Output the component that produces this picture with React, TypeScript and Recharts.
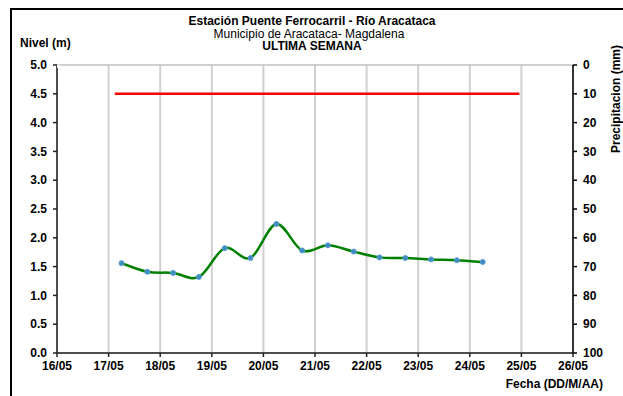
import React from 'react';
import { ComposedChart, Line, XAxis, YAxis, CartesianGrid } from 'recharts';

// Days since 16/05 00:00
const fechas = [1.25, 1.75, 2.25, 2.75, 3.25, 3.75, 4.25, 4.75, 5.25, 5.75, 6.25, 6.75, 7.25, 7.75, 8.25];
const nivel = [1.56, 1.41, 1.39, 1.32, 1.82, 1.65, 2.24, 1.78, 1.87, 1.76, 1.66, 1.65, 1.625, 1.61, 1.58];
const umbralFechas = [1.12, 8.96];
const umbralValor = [4.5, 4.5];
const precFechas = [0];
const precValor = [0];
const xTicks = [0, 1, 2, 3, 4, 5, 6, 7, 8, 9, 10];
const xLabels = ['16/05', '17/05', '18/05', '19/05', '20/05', '21/05', '22/05', '23/05', '24/05', '25/05', '26/05'];
const nivelTicks = [0, 0.5, 1, 1.5, 2, 2.5, 3, 3.5, 4, 4.5, 5];
const precTicks = [0, 10, 20, 30, 40, 50, 60, 70, 80, 90, 100];

const nivelData = fechas.map((t, i) => ({ t, nivel: nivel[i] }));
const umbralData = umbralFechas.map((t, i) => ({ t, umbral: umbralValor[i] }));
const precData = precFechas.map((t, i) => ({ t, prec: precValor[i] }));

// Catmull-Rom style smoothing (like spreadsheet "smoothed line")
function smoothCurve(context: any) {
  let pts: [number, number][] = [];
  return {
    areaStart() {},
    areaEnd() {},
    lineStart() { pts = []; },
    point(x: number, y: number) { pts.push([+x, +y]); },
    lineEnd() {
      const n = pts.length;
      if (!n) return;
      context.moveTo(pts[0][0], pts[0][1]);
      if (n === 1) return;
      for (let i = 0; i < n - 1; i++) {
        const p0 = pts[i - 1] || pts[i];
        const p1 = pts[i];
        const p2 = pts[i + 1];
        const p3 = pts[i + 2] || pts[i + 1];
        const c1x = p1[0] + (p2[0] - p0[0]) / 6;
        const c1y = p1[1] + (p2[1] - p0[1]) / 6;
        const c2x = p2[0] - (p3[0] - p1[0]) / 6;
        const c2y = p2[1] - (p3[1] - p1[1]) / 6;
        context.bezierCurveTo(c1x, c1y, c2x, c2y, p2[0], p2[1]);
      }
    },
  };
}

const tickStyle = { fontSize: 12, fontWeight: 'bold', fill: '#000' } as any;
const font = '"Liberation Sans", Arial, sans-serif';

export default function App() {
  return (
    <div
      style={{
        position: 'fixed',
        left: 0,
        top: 0,
        width: 623,
        height: 396,
        overflow: 'hidden',
        background: '#fff',
        fontFamily: font,
      }}
    >
      <ComposedChart width={623} height={396} margin={{ top: 65, right: 0, left: 0, bottom: 13 }}>
        <CartesianGrid horizontal={false} vertical={true} stroke="#d0d0d0" strokeWidth={2} />
        <CartesianGrid horizontal={true} vertical={false} stroke="#c0c0c0" strokeWidth={1.5} />
        <XAxis
          type="number"
          dataKey="t"
          domain={[0, 10]}
          ticks={xTicks}
          tickFormatter={(v: number) => xLabels[v]}
          allowDataOverflow
          height={30}
          tickSize={4}
          tickMargin={4}
          tick={tickStyle}
          stroke="#222"
          strokeWidth={1.5}
          interval={0}
        />
        <YAxis
          yAxisId="nivel"
          type="number"
          domain={[0, 5]}
          ticks={nivelTicks}
          tickFormatter={(v: number) => v.toFixed(1)}
          width={57}
          tickSize={4}
          tickMargin={6}
          tick={tickStyle}
          stroke="#222"
          strokeWidth={1.5}
          interval={0}
        />
        <YAxis
          yAxisId="prec"
          orientation="right"
          type="number"
          domain={[0, 100]}
          allowDataOverflow
          reversed
          ticks={precTicks}
          width={50}
          tickSize={4}
          tickMargin={6}
          tick={tickStyle}
          stroke="#000"
          strokeWidth={1.5}
          interval={0}
        />
        <Line
          yAxisId="prec"
          data={precData}
          dataKey="prec"
          stroke="transparent"
          dot={false}
          isAnimationActive={false}
          type="linear"
        />
        <Line
          yAxisId="nivel"
          data={umbralData}
          dataKey="umbral"
          stroke="#ff0000"
          strokeWidth={2.5}
          dot={false}
          isAnimationActive={false}
          type="linear"
        />
        <Line
          yAxisId="nivel"
          data={nivelData}
          dataKey="nivel"
          stroke="#008000"
          strokeWidth={2.5}
          type={smoothCurve as any}
          dot={{ r: 2.5, fill: '#3c8dbc', stroke: '#5b9bd5', strokeWidth: 1 }}
          isAnimationActive={false}
        />
      </ComposedChart>
      <svg
        width={623}
        height={396}
        style={{ position: 'absolute', left: 0, top: 0, pointerEvents: 'none', fontFamily: font }}
      >
        <path d="M11 396 V9 H623" fill="none" stroke="#000" strokeWidth={2} />
        <text x={312} y={25} textAnchor="middle" fontSize={12} fontWeight="bold" fill="#000">
          Estación Puente Ferrocarril - Río Aracataca
        </text>
        <text x={309} y={37.5} textAnchor="middle" fontSize={12} fill="#000">
          Municipio de Aracataca- Magdalena
        </text>
        <text x={312} y={50} textAnchor="middle" fontSize={12} fontWeight="bold" fill="#000">
          ULTIMA SEMANA
        </text>
        <text x={20} y={47} fontSize={12} fontWeight="bold" fill="#000">
          Nivel (m)
        </text>
        <text x={603} y={388} textAnchor="end" fontSize={12} fontWeight="bold" fill="#000">
          Fecha (DD/M/AA)
        </text>
        <text
          x={620}
          y={99}
          textAnchor="middle"
          fontSize={12}
          fontWeight="bold"
          fill="#000"
          transform="rotate(-90 620 99)"
        >
          Precipitacion (mm)
        </text>
      </svg>
    </div>
  );
}
